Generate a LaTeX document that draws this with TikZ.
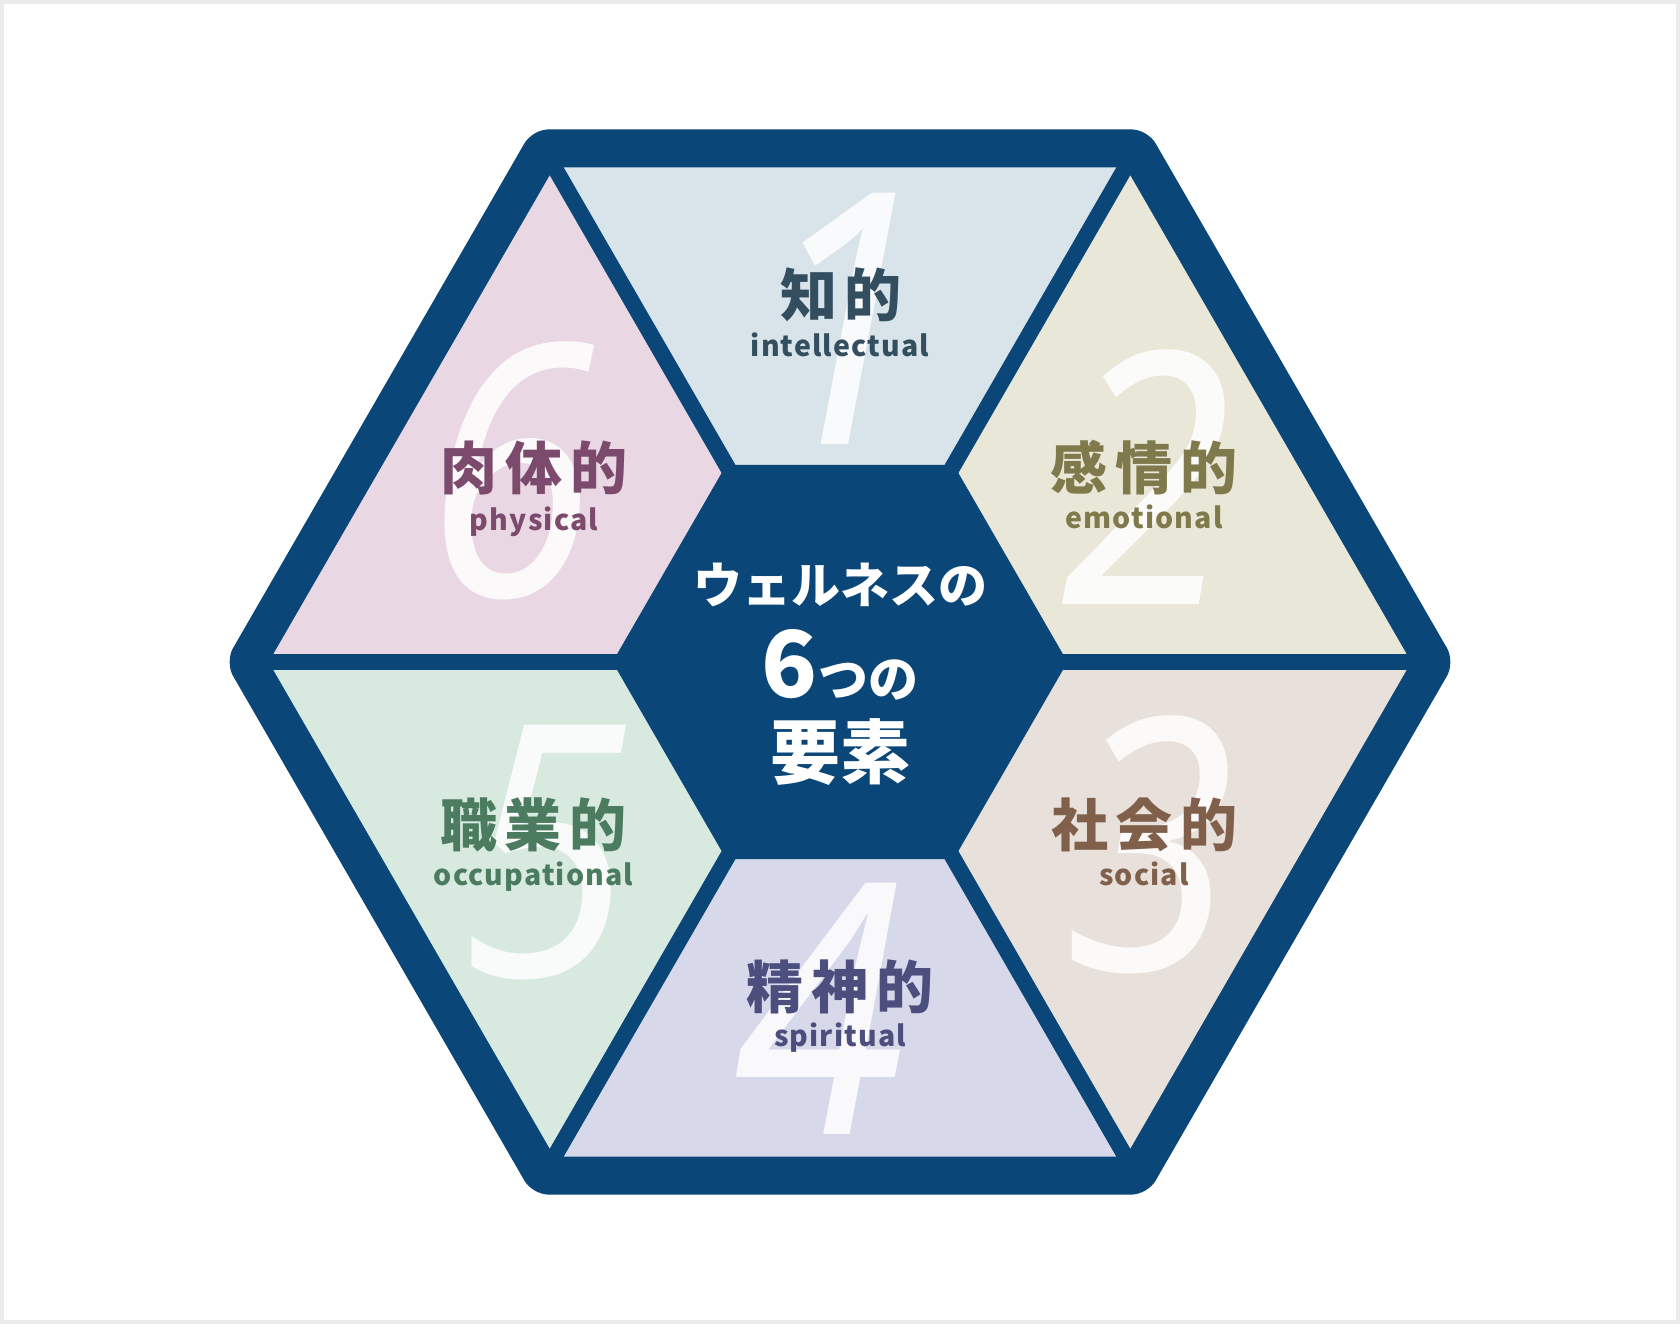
\documentclass[tikz,border=0pt]{standalone}
\usepackage{fontspec}
\newfontfamily\jp{Noto Sans CJK JP}
\newfontfamily\latf{Noto Sans CJK JP}[LetterSpace=4]
\newfontfamily\numf{Noto Sans}[FakeStretch=0.88]
\definecolor{framegray}{RGB}{235,235,235}
\definecolor{hexblue}{RGB}{10,70,120}
\definecolor{bgA}{RGB}{216,227,234}
\definecolor{bgB}{RGB}{233,231,216}
\definecolor{bgC}{RGB}{232,224,218}
\definecolor{bgD}{RGB}{215,217,234}
\definecolor{bgE}{RGB}{216,233,224}
\definecolor{bgF}{RGB}{233,216,227}
\definecolor{txA}{RGB}{50,78,95}
\definecolor{txB}{RGB}{128,121,76}
\definecolor{txC}{RGB}{128,96,75}
\definecolor{txD}{RGB}{76,78,126}
\definecolor{txE}{RGB}{76,124,96}
\definecolor{txF}{RGB}{124,74,108}
\begin{document}
\begin{tikzpicture}[x=1pt,y=-1pt,
  bignum/.style={font=\numf\itshape\fontsize{352}{352}\selectfont, text=white, text opacity=0.85, inner sep=0, anchor=center},
  lab/.style={font=\jp\bfseries\fontsize{57}{57}\selectfont, inner sep=0, anchor=center},
  sublab/.style={font=\latf\bfseries\fontsize{28.5}{28.5}\selectfont, inner sep=0, anchor=base},
  centre/.style={text=white, inner sep=0}
  ]
\useasboundingbox (0,0) rectangle (1680,1324);
\fill[framegray] (0,0) rectangle (1680,1324);
\fill[white] (4,4) rectangle (1676,1320);
\begin{scope}[shift={(840,662)}]
  \fill[hexblue, rounded corners=16pt] (0:615) -- (60:615) -- (120:615) -- (180:615) -- (240:615) -- (300:615) -- cycle;
  \fill[bgA] (0,0) -- (240:571.2) -- (300:571.2) -- cycle;
  \fill[bgB] (0,0) -- (300:571.2) -- (360:571.2) -- cycle;
  \fill[bgC] (0,0) -- (0:571.2) -- (60:571.2) -- cycle;
  \fill[bgD] (0,0) -- (60:571.2) -- (120:571.2) -- cycle;
  \fill[bgE] (0,0) -- (120:571.2) -- (180:571.2) -- cycle;
  \fill[bgF] (0,0) -- (180:571.2) -- (240:571.2) -- cycle;
  \foreach \a in {0,60,...,300} \draw[hexblue, line width=16pt] (0,0) -- (\a:580);
  \fill[hexblue] (0:227.5) -- (60:227.5) -- (120:227.5) -- (180:227.5) -- (240:227.5) -- (300:227.5) -- cycle;
\end{scope}
% big numbers
\node[bignum] (n1) at (844,318.5) {1};
\node[bignum] (n2) at (1147,477) {2};
\node[bignum] (n3) at (1151,844.5) {3};
\node[bignum] (n4) at (819.5,1009) {4};
\node[bignum] (n5) at (546,852.5) {5};
\node[bignum] (n6) at (511,470.5) {6};
% labels
\node[lab, text=txA] (l1) at (841,295) {知\hspace{8pt}的};
\node[sublab, text=txA] (s1) at (840,356.5) {intellectual};
\node[lab, text=txB] (l2) at (1144,467.5) {感\hspace{8pt}情\hspace{8pt}的};
\node[sublab, text=txB] (s2) at (1144,528) {emotional};
\node[lab, text=txC] (l3) at (1144.5,825) {社\hspace{8pt}会\hspace{8pt}的};
\node[sublab, text=txC] (s3) at (1144,885) {social};
\node[lab, text=txD] (l4) at (840,986.5) {精\hspace{8pt}神\hspace{8pt}的};
\node[sublab, text=txD] (s4) at (840,1046.7) {spiritual};
\node[lab, text=txE] (l5) at (533.5,825) {職\hspace{8pt}業\hspace{8pt}的};
\node[sublab, text=txE] (s5) at (533.5,885) {occupational};
\node[lab, text=txF] (l6) at (534,467.5) {肉\hspace{8pt}体\hspace{8pt}的};
\node[sublab, text=txF] (s6) at (534,530) {physical};
% centre
\node[centre, font=\jp\bfseries\fontsize{49}{49}\selectfont] (c1) at (840,585) {ウェルネスの};
\node[centre, anchor=base] (c2) at (840,697) {\jp\bfseries\fontsize{92}{92}\selectfont 6\fontsize{50}{50}\selectfont つの};
\node[centre, font=\jp\bfseries\fontsize{70}{70}\selectfont] (c3) at (840,752.5) {要素};
\end{tikzpicture}
\end{document}
